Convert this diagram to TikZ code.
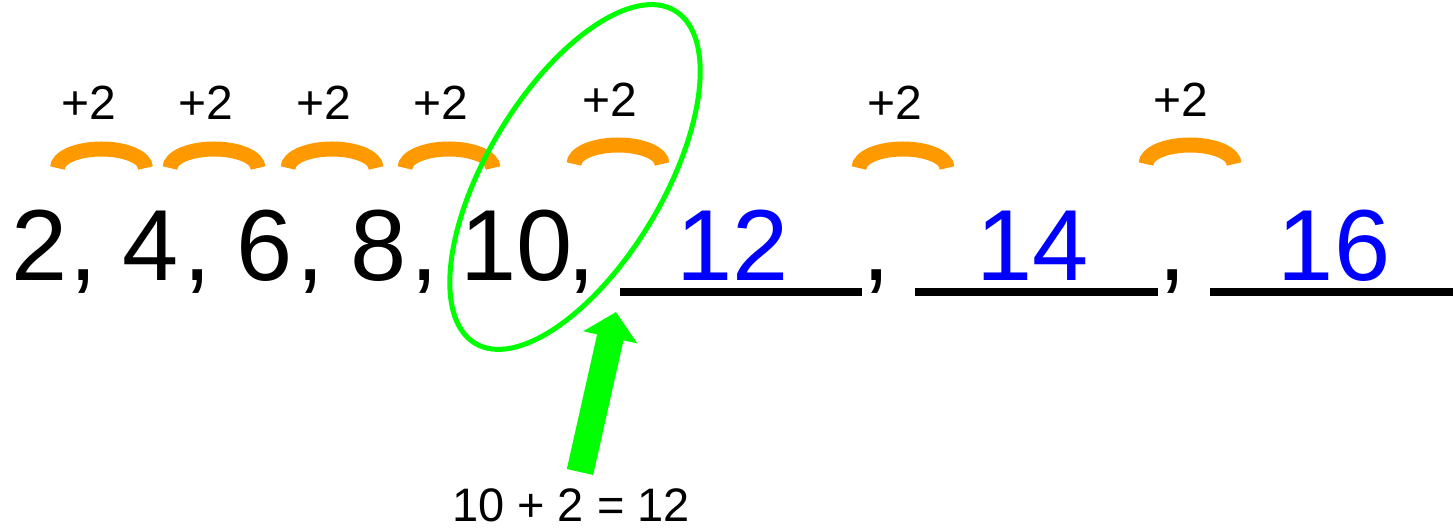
\documentclass[tikz,border=0pt]{standalone}
\usepackage{fontspec}
\setmainfont{Liberation Sans}
\usetikzlibrary{arrows.meta}
\definecolor{arcorange}{RGB}{255,153,0}
\definecolor{brightgreen}{RGB}{0,255,0}
\definecolor{answerblue}{RGB}{0,0,255}
\begin{document}
\begin{tikzpicture}[x=1pt,y=1pt,
  big/.style={inner sep=0pt,anchor=base,font=\fontsize{101}{101}\selectfont},
  ans/.style={big,text=answerblue},
  plus/.style={inner sep=0pt,anchor=base,font=\fontsize{48}{48}\selectfont},
  hop/.style={draw=arcorange,line width=15pt,line cap=butt},
  blank/.style={draw=black,line width=8pt},
  eq/.style={inner sep=0pt,anchor=base,font=\fontsize{47}{47}\selectfont}]
\useasboundingbox (0,0) rectangle (1453,529);
% numbers
\node[big] (n2) at (40,248) {2};
\node[big] (c1) at (84,248) {,};
\node[big] (n4) at (151,248) {4};
\node[big] (c2) at (198,248) {,};
\node[big] (n6) at (265,248) {6};
\node[big] (c3) at (311,248) {,};
\node[big] (n8) at (379,248) {8};
\node[big] (c4) at (425,248) {,};
\node[big] (n10) at (517,248) {10};
\node[big] (c5) at (582,248) {,};
\node[ans] (b12) at (733,248) {12};
\node[big] (c6) at (877,248) {,};
\node[ans] (b14) at (1033,248) {14};
\node[big] (c7) at (1173,248) {,};
\node[ans] (b16) at (1334,248) {16};
% blanks
\draw[blank] (620,237) -- (862,237);
\draw[blank] (915,237) -- (1158,237);
\draw[blank] (1210,237) -- (1453,237);
% hops
\foreach \cx/\by in {101.5/361,214/361,332/361,449/361,618/365,903/361,1190/365}
  \draw[hop] (\cx-44,\by) arc[start angle=180,end angle=0,x radius=44,y radius=19];
% +2 labels
\node[plus] (p1) at (89,409) {+2};
\node[plus] (p2) at (206,409) {+2};
\node[plus] (p3) at (324,409) {+2};
\node[plus] (p4) at (441,409) {+2};
\node[plus] (p5) at (610,412) {+2};
\node[plus] (p6) at (895,409) {+2};
\node[plus] (p7) at (1181,412) {+2};
% green ellipse
\draw[brightgreen,line width=5pt] (575,352) ellipse[x radius=194,y radius=88,rotate=59];
% arrow and equation
\node[eq] (eqn) at (571,7) {10 + 2 = 12};
\coordinate (tail) at (580,57);
\coordinate (tip) at (616,217);
\draw[brightgreen,line width=27pt,-{Triangle[length=26pt,width=54pt]}] (tail) -- (tip);
\end{tikzpicture}
\end{document}
